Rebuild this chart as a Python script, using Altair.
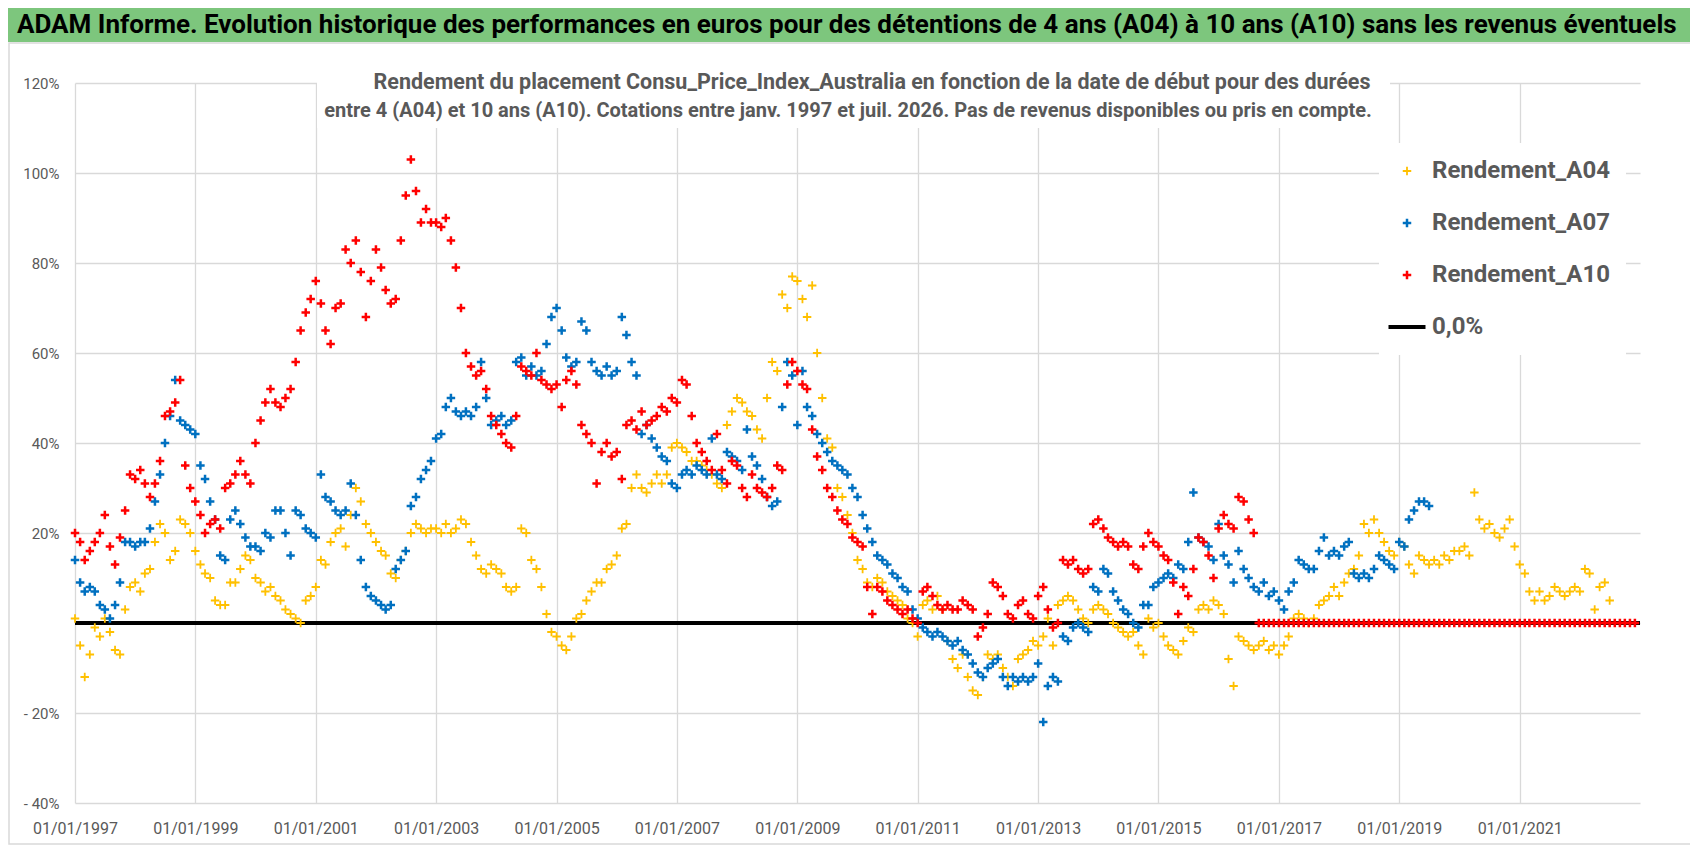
import altair as alt
import pandas as pd

# Rendements mensuels (en %), un rang par annee
a04 = [
    1, -5, -12, -7, -1, -3, 1, -2, -6, -7, 3, 8,          # 1997
    9, 7, 11, 12, 18, 22, 20, 14, 16, 23, 22, 20,          # 1998
    16, 13, 11, 10, 5, 4, 4, 9, 9, 12, 15, 14,             # 1999
    10, 9, 7, 8, 6, 5, 3, 2, 1, 0, 5, 6,                   # 2000
    8, 14, 13, 18, 20, 21, 17, 24, 30, 27, 22, 20,         # 2001
    18, 16, 15, 11, 10, 14, 16, 20, 22, 21, 20, 21,        # 2002
    21, 20, 22, 20, 21, 23, 22, 18, 15, 12, 11, 13,        # 2003
    12, 11, 8, 7, 8, 21, 20, 14, 12, 8, 2, -2,             # 2004
    -3, -5, -6, -3, 1, 2, 5, 7, 9, 9, 12, 13,              # 2005
    15, 21, 22, 30, 33, 30, 29, 31, 33, 31, 33, 39,        # 2006
    40, 39, 38, 36, 36, 35, 34, 33, 31, 30, 44, 47,        # 2007
    50, 49, 47, 46, 43, 41, 50, 58, 56, 73, 70, 77,        # 2008
    76, 72, 68, 75, 60, 50, 41, 39, 30, 28, 24, 20,        # 2009
    14, 12, 9, 8, 10, 9, 7, 6, 5, 4, 1, 0,                 # 2010
    -3, 4, 5, 3, 6, 3, -4, -8, -10, -7, -12, -15,          # 2011
    -16, -12, -7, -8, -7, -10, -12, -14, -8, -7, -6, -4,   # 2012
    -5, -3, 1, -5, 4, 5, 6, 5, 3, 1, 0, 3,                 # 2013
    4, 3, 2, 0, -1, -2, -3, -2, -5, -7, 1, -1,             # 2014
    0, -3, -5, -6, -7, -4, -1, -2, 3, 4, 3, 5,             # 2015
    4, 2, -8, -14, -3, -4, -5, -6, -5, -4, -6, -5,         # 2016
    -7, -5, -3, 1, 2, 1, 0, 1, 4, 5, 6, 8,                 # 2017
    6, 9, 11, 12, 15, 22, 20, 23, 20, 18, 16, 15,          # 2018
    18, 17, 13, 11, 15, 14, 13, 14, 13, 15, 14, 16,        # 2019
    16, 17, 15, 29, 23, 21, 22, 20, 19, 21, 23, 17,        # 2020
    13, 11, 7, 5, 7, 5, 6, 8, 7, 6, 7, 8,                  # 2021
    7, 12, 11, 3, 8, 9, 5,                                 # 2022
]

a07 = [
    14, 9, 7, 8, 7, 4, 3, 1, 4, 9, 18, 18,                 # 1997
    17, 18, 18, 21, 27, 33, 40, 46, 54, 45, 44, 43,        # 1998
    42, 35, 32, 27, 23, 15, 14, 23, 25, 22, 19, 17,        # 1999
    17, 16, 20, 19, 25, 25, 20, 15, 25, 24, 21, 20,        # 2000
    19, 33, 28, 27, 25, 24, 25, 31, 24, 14, 8, 6,          # 2001
    5, 4, 3, 4, 12, 14, 16, 26, 28, 32, 34, 36,            # 2002
    41, 42, 48, 50, 47, 46, 47, 46, 48, 58, 50, 44,        # 2003
    45, 46, 44, 45, 58, 59, 55, 57, 55, 56, 62, 68,        # 2004
    70, 65, 59, 57, 58, 67, 65, 58, 56, 55, 57, 55,        # 2005
    56, 68, 64, 58, 55, 42, 44, 41, 39, 37, 36, 31,        # 2006
    30, 33, 34, 33, 35, 34, 33, 41, 33, 32, 38, 37,        # 2007
    36, 34, 43, 37, 35, 32, 28, 26, 27, 48, 58, 55,        # 2008
    44, 56, 48, 46, 42, 40, 38, 36, 35, 34, 33, 30,        # 2009
    28, 24, 21, 18, 15, 14, 13, 11, 10, 8, 7, 3,           # 2010
    1, -1, -2, -3, -2, -3, -4, -5, -4, -6, -7, -9,         # 2011
    -11, -12, -10, -9, -8, -12, -14, -12, -13, -12, -13, -12,  # 2012
    -9, -22, -14, -12, -13, -3, -4, -1, 0, -1, -2, 8,      # 2013
    7, 12, 11, 7, 5, 3, 2, 0, -1, 4, 4, 8,                 # 2014
    9, 10, 11, 10, 13, 12, 18, 29, 19, 18, 17, 14,         # 2015
    22, 15, 13, 9, 16, 12, 10, 8, 7, 9, 6, 7,              # 2016
    5, 3, 7, 9, 14, 13, 12, 12, 16, 19, 15, 16,            # 2017
    15, 17, 18, 11, 10, 11, 10, 12, 15, 14, 13, 12,        # 2018
    18, 17, 23, 25, 27, 27, 26,                            # 2019
]

a10 = [
    20, 18, 14, 16, 18, 20, 24, 17, 13, 19, 25, 33,        # 1997
    32, 34, 31, 28, 31, 36, 46, 47, 49, 54, 35, 30,        # 1998
    27, 24, 20, 22, 23, 21, 30, 31, 33, 36, 33, 31,        # 1999
    40, 45, 49, 52, 49, 48, 50, 52, 58, 65, 69, 72,        # 2000
    76, 71, 65, 62, 70, 71, 83, 80, 85, 78, 68, 76,        # 2001
    83, 79, 74, 71, 72, 85, 95, 103, 96, 89, 92, 89,       # 2002
    89, 88, 90, 85, 79, 70, 60, 57, 55, 56, 52, 46,        # 2003
    44, 42, 40, 39, 46, 57, 56, 55, 60, 54, 53, 52,        # 2004
    53, 48, 54, 56, 53, 44, 42, 40, 31, 38, 40, 37,        # 2005
    38, 32, 44, 45, 43, 47, 44, 45, 46, 48, 47, 50,        # 2006
    49, 54, 53, 46, 40, 38, 36, 34, 42, 34, 31, 36,        # 2007
    35, 30, 28, 33, 30, 29, 28, 30, 35, 34, 53, 58,        # 2008
    56, 53, 52, 43, 37, 34, 30, 28, 25, 23, 22, 19,        # 2009
    18, 17, 8, 2, 8, 7, 5, 4, 3, 2, 3, 1,                  # 2010
    0, 7, 8, 6, 4, 3, 4, 3, 3, 5, 4, 3,                    # 2011
    -3, -1, 2, 9, 8, 6, 2, 1, 4, 5, 2, 1,                  # 2012
    6, 8, 3, -1, 0, 14, 13, 14, 12, 11, 12, 22,            # 2013
    23, 21, 19, 18, 17, 18, 17, 13, 12, 17, 20, 18,        # 2014
    17, 15, 14, 9, 2, 8, 6, 12, 19, 18, 15, 10,            # 2015
    21, 24, 22, 21, 28, 27, 23, 20,                        # 2016
]
# apres aout 2016, pas de duree de 10 ans disponible : Excel trace 0 %
a10_mois_sans_donnees = 76

series = ["Rendement_A04", "Rendement_A07", "Rendement_A10", "0,0%"]
couleurs = ["#FFC000", "#0070C0", "#FF0000", "#000000"]

titre = ("ADAM Informe. Evolution historique des performances en euros pour des "
         "détentions de 4 ans (A04) à 10 ans (A10) sans les revenus éventuels")
sous_titre_1 = "Rendement du placement Consu_Price_Index_Australia en fonction de la date de début pour des durées"
sous_titre_2 = ("entre 4 (A04) et 10 ans (A10). Cotations entre janv. 1997 et juil. 2026. "
                "Pas de revenus disponibles ou pris en compte.")

FONT = "Roboto, Open Sans, sans-serif"
GRIS = "#595959"
W, H = 1565, 720


def serie(nom, valeurs):
    dates = pd.date_range("1997-01-01", periods=len(valeurs), freq="MS")
    return pd.DataFrame({"date": dates, "rendement": valeurs, "serie": nom})


df = pd.concat([
    serie("Rendement_A04", a04),
    serie("Rendement_A07", a07),
    serie("Rendement_A10", a10 + [0] * a10_mois_sans_donnees),
], ignore_index=True)

plus = "M-1,0H1M0,-1V1"
trait = "M-2.5,0H2.5"

leg = dict(
    title=None, orient="none", legendX=1304, legendY=60, padding=16,
    fillColor="white", labelFont=FONT, labelFontSize=24, labelFontWeight="bold",
    labelColor=GRIS, labelOffset=13, rowPadding=28, labelLimit=400,
)

# ----------------------------------------
# decor : bandeau vert, cadre, fond du sous-titre
# ----------------------------------------
bandeau = alt.Chart(pd.DataFrame({"t": [titre]})).mark_rect(color="#7DC67D").encode(
    x=alt.value(-67), x2=alt.value(W + 50), y=alt.value(-75), y2=alt.value(-41)
)
bandeau_txt = alt.Chart(pd.DataFrame({"t": [titre]})).mark_text(
    align="left", baseline="alphabetic", font=FONT, fontSize=26, fontWeight="bold", color="black"
).encode(x=alt.value(-58), y=alt.value(-50), text="t:N")

cadre = alt.Chart(pd.DataFrame({"t": [0]})).mark_rect(
    filled=False, color="#D9D9D9", strokeWidth=1.5
).encode(x=alt.value(-66), x2=alt.value(W + 51), y=alt.value(-40), y2=alt.value(H + 41))

fond_st = alt.Chart(pd.DataFrame({"t": [0]})).mark_rect(color="white").encode(
    x=alt.value(242), x2=alt.value(1315), y=alt.value(-2), y2=alt.value(45)
)
st1 = alt.Chart(pd.DataFrame({"t": [sous_titre_1]})).mark_text(
    align="center", baseline="alphabetic", font=FONT, fontSize=21.5, fontWeight="bold", color=GRIS
).encode(x=alt.value(797), y=alt.value(6), text="t:N")
st2 = alt.Chart(pd.DataFrame({"t": [sous_titre_2]})).mark_text(
    align="center", baseline="alphabetic", font=FONT, fontSize=20, fontWeight="bold", color=GRIS
).encode(x=alt.value(773), y=alt.value(34), text="t:N")

# ----------------------------------------
# ligne 0,0 % et nuages de points
# ----------------------------------------
zero = alt.Chart(pd.DataFrame({"y": [0]})).mark_rule(color="black", strokeWidth=4).encode(
    y="y:Q"
)

points = alt.Chart(df).mark_point(filled=False, opacity=1).encode(
    x=alt.X(
        "date:T",
        scale=alt.Scale(domain=[alt.DateTime(year=1997, month=1, date=1),
                                alt.DateTime(year=2023, month=1, date=1)], nice=False),
        axis=alt.Axis(
            values=[alt.DateTime(year=y, month=1, date=1) for y in range(1997, 2022, 2)],
            format="%d/%m/%Y", title=None, grid=True, gridColor="#D9D9D9", gridWidth=1.3,
            domain=False, ticks=False, labelPadding=17, labelFont=FONT, labelFontSize=16,
            labelColor=GRIS, labelOverlap=False, labelFlush=False,
        ),
    ),
    y=alt.Y(
        "rendement:Q",
        scale=alt.Scale(domain=[-40, 120], nice=False),
        axis=alt.Axis(
            values=list(range(-40, 121, 20)), title=None, grid=True, gridColor="#D9D9D9",
            gridWidth=1.3, domain=False, ticks=False, labelPadding=16, labelFont=FONT,
            labelFontSize=15, labelColor=GRIS,
            labelExpr="datum.value == 0 ? '' : (datum.value < 0 ? '- ' + abs(datum.value) + '%' : datum.value + '%')",
        ),
    ),
    color=alt.Color("serie:N", scale=alt.Scale(domain=series, range=couleurs),
                    legend=alt.Legend(**leg)),
    shape=alt.Shape("serie:N", scale=alt.Scale(domain=series, range=[plus, plus, plus, trait]),
                    legend=alt.Legend(**leg)),
    size=alt.Size("serie:N", scale=alt.Scale(type="ordinal", domain=series, range=[72, 72, 72, 219]),
                  legend=alt.Legend(**leg)),
    strokeWidth=alt.StrokeWidth("serie:N",
                                scale=alt.Scale(type="ordinal", domain=series, range=[1.8, 2.5, 2.5, 4]),
                                legend=alt.Legend(**leg)),
)

chart = alt.layer(bandeau, bandeau_txt, cadre, fond_st, zero, points, st1, st2).properties(
    width=W, height=H,
    autosize=alt.AutoSizeParams(type="none"),
    padding={"left": 67, "top": 75, "right": 50, "bottom": 45},
).configure_view(strokeWidth=0)

chart.save("out.html", embed_options={"renderer": "svg", "actions": False})
